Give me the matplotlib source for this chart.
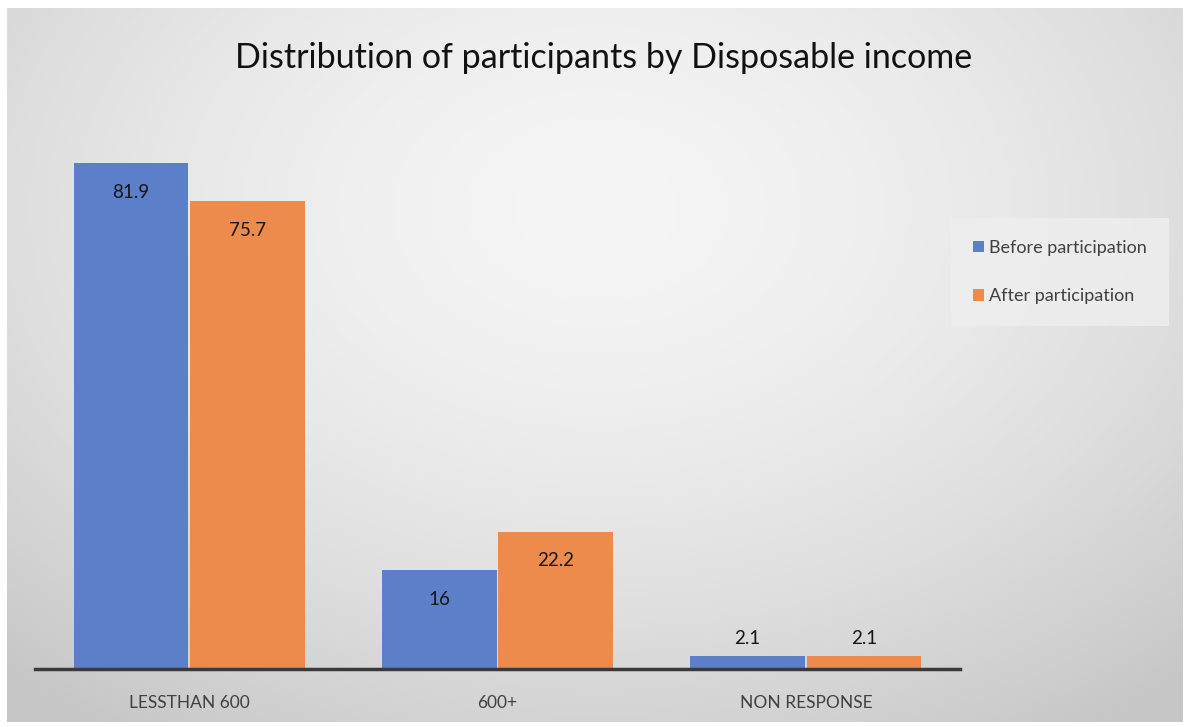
import numpy as np
import matplotlib.pyplot as plt

# data
categories = ["LESSTHAN 600", "600+", "NON RESPONSE"]
before = [81.9, 16, 2.1]
after = [75.7, 22.2, 2.1]
series_names = ["Before participation", "After participation"]

blue = "#5B7FC9"
orange = "#EC8B4C"

plt.rcParams['font.family'] = ['Lato', 'DejaVu Sans']

fig = plt.figure(figsize=(11.9, 7.27), dpi=100)
fig.patch.set_facecolor("white")

# radial gray gradient background (inside a thin white border)
bg = fig.add_axes([7 / 1190, 1 - 722 / 727, 1176 / 1190, 714 / 727])
bg.set_axis_off()
yy, xx = np.mgrid[0:714, 0:1176]
r = np.sqrt(((xx - 590) / 850.0) ** 2 + ((yy - 200) / 600.0) ** 2)
shade = np.clip(0.96 - 0.17 * r ** 1.7, 0.78, 1.0)
rgb = np.dstack([shade, shade, shade])
bg.imshow(rgb, aspect="auto", interpolation="bilinear")

ax = fig.add_axes([35 / 1190, 1 - 669 / 727, 925 / 1190, (669 - 113) / 727])
ax.patch.set_alpha(0)

x = np.arange(len(categories))
w = 0.372
b1 = ax.bar(x - w / 2 - 0.003, before, w, color=blue, label=series_names[0])
b2 = ax.bar(x + w / 2 + 0.003, after, w, color=orange, label=series_names[1])

for bars, vals in [(b1, before), (b2, after)]:
    for rect, v in zip(bars, vals):
        cx = rect.get_x() + rect.get_width() / 2
        if v > 5:
            ax.text(cx, v - 4.7, f"{v:g}", ha="center", va="center", fontsize=13.5, color="#151515")
        else:
            ax.text(cx, v + 2.8, f"{v:g}", ha="center", va="center", fontsize=13.5, color="#151515")

ax.set_xlim(-0.5, 2.5)
ax.set_ylim(0, 90)
ax.set_yticks([])
ax.set_xticks(x)
ax.set_xticklabels(categories, fontsize=12.5, color="#404040")
ax.tick_params(axis="x", length=0, pad=19)
for s in ["top", "right", "left"]:
    ax.spines[s].set_visible(False)
ax.spines["bottom"].set_color("#3a3a3a")
ax.spines["bottom"].set_linewidth(2.5)

fig.text(604 / 1190, 1 - 58 / 727, "Distribution of participants by Disposable income",
         ha="center", va="center", fontsize=24.5, color="#111111")

leg = fig.legend(loc="center", bbox_to_anchor=(1060 / 1190, 1 - 272 / 727), frameon=True,
                 fontsize=13, handlelength=0.6, handleheight=0.6, handletextpad=0.3,
                 labelspacing=1.8, borderpad=1.2, fancybox=False)
leg.get_frame().set_facecolor("#efefef")
leg.get_frame().set_edgecolor("none")
for t in leg.get_texts():
    t.set_color("#404040")

fig.savefig("out.png", dpi=100)
